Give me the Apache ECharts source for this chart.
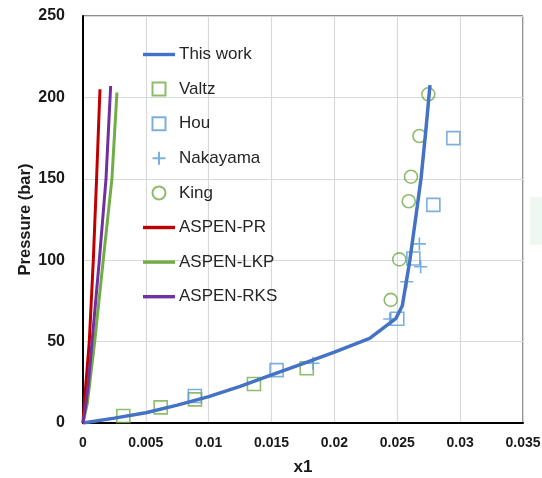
<!DOCTYPE html>
<html>
<head>
<meta charset="utf-8">
<script src="https://cdn.jsdelivr.net/npm/echarts@6/dist/echarts.min.js"></script>
<style>
  html, body { margin: 0; padding: 0; background: #ffffff; }
  #chart { width: 542px; height: 478px; }
</style>
</head>
<body>
<div id="chart"></div>
<script>
// Solubility curve: mole fraction x1 vs. pressure (bar)
const xTickLabels = ['0', '0.005', '0.01', '0.015', '0.02', '0.025', '0.03', '0.035'];
const yTickLabels = ['0', '50', '100', '150', '200', '250'];

// Model curve ("This work")
const thisWorkX = [0, 0.0025, 0.005, 0.0075, 0.01, 0.0125, 0.015, 0.0175, 0.02, 0.0228, 0.0249, 0.0254, 0.026, 0.0265, 0.0269, 0.0273, 0.0276];
const thisWorkP = [0, 3, 6.3, 11, 16.2, 22.5, 29.5, 36.5, 43.5, 52, 64.3, 72, 100, 128, 151, 182, 207.5];

// Experimental data sets
const valtzX = [0.00321, 0.00618, 0.00891, 0.0136, 0.0178];
const valtzP = [4.3, 9.6, 14.5, 24, 33.6];

const houX = [0.0089, 0.0154, 0.0250, 0.02628, 0.02787, 0.02946];
const houP = [16.6, 32.5, 64, 101, 134, 175];

const nakayamaX = [0.0183, 0.0244, 0.02575, 0.02686, 0.02676];
const nakayamaP = [36.7, 63.9, 86.8, 96, 110];

const kingX = [0.02448, 0.02516, 0.02591, 0.02609, 0.02676, 0.02747];
const kingP = [75.6, 100.5, 136.2, 151.3, 176.3, 201.9];

// Aspen Plus predictions
const aspenPrX = [0, 0.0001, 0.00021, 0.0005, 0.00082, 0.00108, 0.00135];
const aspenPrP = [0, 12, 22, 50, 100, 150, 205];

const aspenLkpX = [0, 0.00034, 0.0005, 0.00093, 0.00161, 0.0023, 0.0027];
const aspenLkpP = [0, 12, 22, 50, 100, 150, 203];

const aspenRksX = [0, 0.00024, 0.0004, 0.00072, 0.0013, 0.00183, 0.0022];
const aspenRksP = [0, 12, 22, 50, 100, 150, 207];

const pairs = (xs, ys) => xs.map((x, i) => [x, ys[i]]);

const BLUE = '#4472c4';
const LBLUE = '#5b9bd5';
const GREEN = '#70ad47';
const RED = '#c00000';
const PURPLE = '#7030a0';
const FONT = '"Liberation Sans", Arial, sans-serif';

// Marker shapes (paths keep their aspect ratio in the legend)
const SQUARE = 'path://M0,0H10V10H0Z';
const PLUS = 'path://M6,0V12M0,6H12';
const LINE_ICON = 'path://M0,0H32V3.4H0Z';

function lineSeries(name, data, color, width) {
  return {
    name, type: 'line', data,
    showSymbol: false, symbol: 'none',
    lineStyle: { color, width },
    itemStyle: { color },
    animation: false
  };
}

function scatterSeries(name, data, symbol, color, size) {
  return {
    name, type: 'scatter', data,
    symbol, symbolSize: size,
    itemStyle: { color: 'rgba(0,0,0,0)', borderColor: color, borderWidth: 1.6 },
    animation: false
  };
}

const lineNames = ['This work', 'ASPEN-PR', 'ASPEN-LKP', 'ASPEN-RKS'];
const legendOrder = ['This work', 'Valtz', 'Hou', 'Nakayama', 'King', 'ASPEN-PR', 'ASPEN-LKP', 'ASPEN-RKS'];
const markerIcons = { 'Valtz': SQUARE, 'Hou': SQUARE, 'Nakayama': PLUS, 'King': 'circle' };

const chart = echarts.init(document.getElementById('chart'), null, { renderer: 'canvas' });

chart.setOption({
  animation: false,
  backgroundColor: '#ffffff',
  grid: {
    left: 83, right: 19, top: 16, bottom: 55,
    outerBoundsMode: 'none',
    show: true, borderColor: '#1a1a1a', borderWidth: 1
  },
  legend: {
    orient: 'vertical',
    left: 143, top: 46,
    padding: 0,
    itemWidth: 32, itemHeight: 13,
    itemGap: 17.6,
    symbolKeepAspect: true,
    textStyle: { fontFamily: FONT, fontSize: 17, color: '#262626', padding: [0, 0, 0, -1] },
    data: legendOrder.map(name => ({
      name,
      icon: lineNames.includes(name) ? LINE_ICON : markerIcons[name]
    }))
  },
  xAxis: {
    type: 'value', min: 0, max: 0.035, interval: 0.005,
    name: 'x1', nameLocation: 'middle', nameGap: 36, nameMoveOverlap: false,
    nameTextStyle: { fontFamily: FONT, fontSize: 17, fontWeight: 'bold', color: '#1a1a1a' },
    axisLine: { show: true, lineStyle: { color: '#000000', width: 2 } },
    axisTick: { show: false },
    axisLabel: {
      margin: 13, fontFamily: FONT, fontSize: 14, fontWeight: 'bold', color: '#1a1a1a',
      formatter: (v, i) => xTickLabels[i]
    },
    splitLine: { show: true, lineStyle: { color: '#d9d9d9', width: 1.2 } }
  },
  yAxis: {
    type: 'value', min: 0, max: 250, interval: 50,
    name: 'Pressure (bar)', nameLocation: 'middle', nameGap: 49, nameMoveOverlap: false,
    nameTextStyle: { fontFamily: FONT, fontSize: 16.5, fontWeight: 'bold', color: '#1a1a1a' },
    axisLine: { show: true, lineStyle: { color: '#000000', width: 2 } },
    axisTick: { show: false },
    axisLabel: {
      margin: 18, fontFamily: FONT, fontSize: 16, fontWeight: 'bold', color: '#1a1a1a',
      formatter: (v, i) => yTickLabels[i]
    },
    splitLine: { show: true, lineStyle: { color: '#d9d9d9', width: 1.2 } }
  },
  graphic: [{
    type: 'rect', left: 530, top: 197, z: -1,
    shape: { width: 12, height: 48 },
    style: { fill: '#eef7f1' }
  }],
  series: [
    lineSeries('This work', pairs(thisWorkX, thisWorkP), BLUE, 3.5),
    scatterSeries('Valtz', pairs(valtzX, valtzP), SQUARE, GREEN, 13),
    scatterSeries('Hou', pairs(houX, houP), SQUARE, LBLUE, 13),
    scatterSeries('Nakayama', pairs(nakayamaX, nakayamaP), PLUS, LBLUE, 13),
    scatterSeries('King', pairs(kingX, kingP), 'circle', GREEN, 13),
    lineSeries('ASPEN-PR', pairs(aspenPrX, aspenPrP), RED, 3),
    lineSeries('ASPEN-LKP', pairs(aspenLkpX, aspenLkpP), GREEN, 3),
    lineSeries('ASPEN-RKS', pairs(aspenRksX, aspenRksP), PURPLE, 3)
  ]
});
</script>
</body>
</html>
